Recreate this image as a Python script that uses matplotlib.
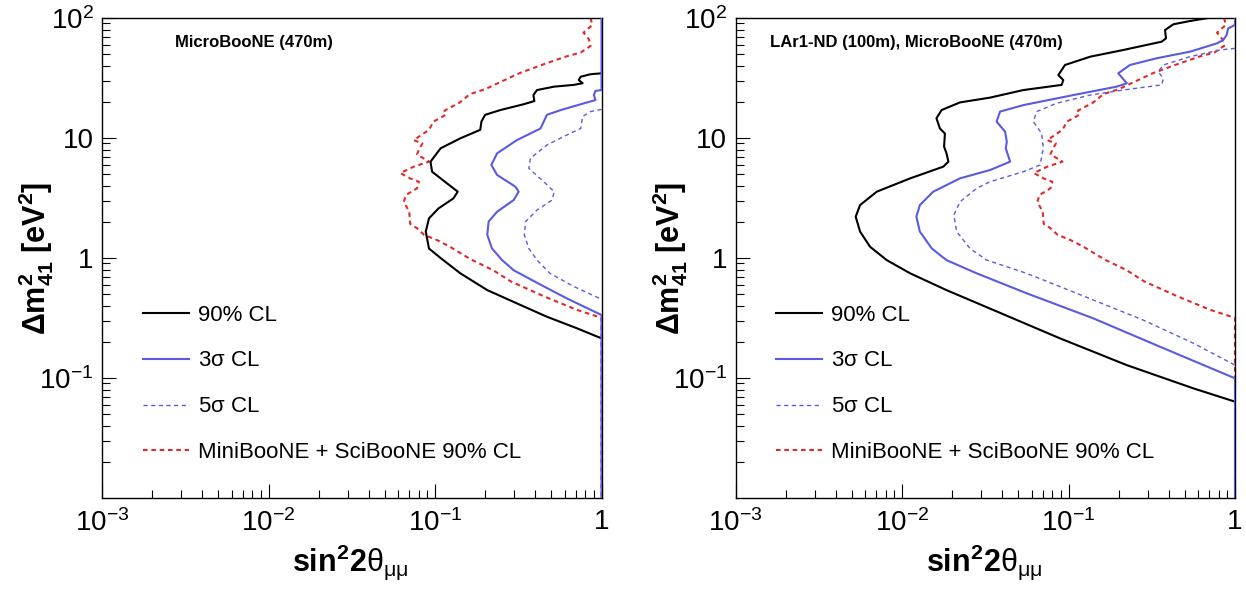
import math
import matplotlib
matplotlib.use('Agg')
import matplotlib.pyplot as plt
import matplotlib.ticker as mticker

plt.rcParams['font.family'] = ['Liberation Sans', 'DejaVu Sans']
plt.rcParams['mathtext.fontset'] = 'custom'
plt.rcParams['mathtext.rm'] = 'Liberation Sans'
plt.rcParams['mathtext.it'] = 'Liberation Sans:italic'
plt.rcParams['mathtext.bf'] = 'Liberation Sans:bold'

# --- MicroBooNE only (left panel) ---
ub_90_x = [1.0, 0.86, 0.75, 0.73, 0.77, 0.68, 0.52, 0.41, 0.39, 0.395, 0.34, 0.247, 0.20, 0.19,
           0.187, 0.142, 0.108, 0.094, 0.096, 0.118, 0.137, 0.129, 0.105, 0.092, 0.088, 0.092,
           0.108, 0.142, 0.206, 0.326, 0.47, 0.71, 1.0]
ub_90_y = [34.6, 34.0, 32.4, 30.4, 28.6, 27.7, 26.8, 25.1, 22.8, 20.3, 19.1, 17.1, 15.6, 13.7,
           11.7, 9.94, 8.2, 6.35, 5.24, 4.19, 3.57, 3.14, 2.59, 2.14, 1.66, 1.20,
           1.0, 0.745, 0.54, 0.406, 0.324, 0.26, 0.214]

ub_3s_x = [1.0, 1.0, 0.92, 0.90, 0.92, 0.82, 0.57, 0.47, 0.45, 0.43, 0.31, 0.236, 0.218, 0.236,
           0.304, 0.318, 0.297, 0.236, 0.21, 0.206, 0.22, 0.253, 0.297, 0.43, 0.62, 1.0, 1.0]
ub_3s_y = [100, 25.1, 24.7, 22.8, 20.7, 19.8, 17.1, 15.6, 13.7, 12.0, 9.6, 7.45, 5.96, 4.92,
           3.93, 3.57, 3.04, 2.43, 2.01, 1.56, 1.2, 0.96, 0.79, 0.60, 0.46, 0.335, 0.01]

ub_5s_x = [1.0, 0.86, 0.77, 0.75, 0.62, 0.47, 0.374, 0.366, 0.45, 0.52, 0.505, 0.41, 0.35,
           0.344, 0.366, 0.41, 0.49, 0.68, 1.0]
ub_5s_y = [17.3, 16.6, 15.1, 12.0, 10.6, 8.74, 6.77, 5.59, 4.32, 3.57, 3.04, 2.51, 2.01,
           1.56, 1.2, 0.96, 0.745, 0.58, 0.453]

# --- LAr1-ND + MicroBooNE (right panel) ---
nd_90_x = [0.69, 0.537, 0.426, 0.38, 0.385, 0.363, 0.213, 0.135, 0.0953, 0.0869, 0.093, 0.091,
           0.0536, 0.0338, 0.0223, 0.0173, 0.0161, 0.0169, 0.0181, 0.0179, 0.0185, 0.019,
           0.0177, 0.0112, 0.00705, 0.0056, 0.00527, 0.0056, 0.00643, 0.0081, 0.0112, 0.0185,
           0.0353, 0.0889, 0.224, 0.562, 1.0]
nd_90_y = [100, 94.4, 88.6, 79.4, 67.7, 63.5, 54.1, 47.6, 40.6, 33.5, 30.4, 27.7,
           25.1, 21.7, 19.8, 17.1, 14.6, 12.0, 10.9, 8.47, 7.45, 6.35,
           5.77, 4.61, 3.57, 2.76, 2.21, 1.66, 1.24, 0.96, 0.745, 0.54,
           0.369, 0.214, 0.128, 0.082, 0.0635]

nd_3s_x = [1.0, 1.0, 0.91, 0.89, 0.85, 0.78, 0.537, 0.339, 0.234, 0.199, 0.224, 0.195, 0.107,
           0.0536, 0.0388, 0.037, 0.0416, 0.0426, 0.042, 0.0446, 0.0338, 0.0223, 0.0154, 0.0128,
           0.0122, 0.0128, 0.0151, 0.0185, 0.0281, 0.0561, 0.141, 0.355, 1.0, 1.0]
nd_3s_y = [100, 87.5, 82, 72.1, 65.6, 61.5, 52.4, 46.2, 40.6, 34.6, 28.6, 26.8, 22.8,
           18.8, 16.6, 13.7, 11.3, 9.3, 8.2, 6.35, 5.41, 4.61, 3.57, 2.76,
           2.21, 1.66, 1.2, 0.96, 0.745, 0.508, 0.314, 0.182, 0.0994, 0.01]

nd_5s_x = [1.0, 0.81, 0.537, 0.371, 0.346, 0.371, 0.363, 0.213, 0.135, 0.085, 0.0644, 0.0615,
           0.069, 0.0706, 0.0675, 0.0536, 0.0338, 0.0281, 0.0223, 0.0205, 0.0213, 0.0256,
           0.0323, 0.0561, 0.112, 0.281, 0.562, 1.0]
nd_5s_y = [55.9, 54.1, 47.6, 40.6, 35.7, 31.4, 27.7, 25.1, 22.8, 19.5, 16.6, 13.7,
           10.9, 8.2, 5.96, 5.24, 4.32, 3.81, 2.94, 2.28, 1.66, 1.2,
           0.96, 0.745, 0.508, 0.304, 0.195, 0.128]

# --- MiniBooNE + SciBooNE 90% CL limit (same in both panels) ---
mbsb_x = [0.86, 0.88, 0.78, 0.84, 0.86, 0.75, 0.62, 0.45, 0.32, 0.25, 0.2, 0.162, 0.141, 0.114,
          0.116, 0.098, 0.092, 0.0745, 0.084, 0.08, 0.078, 0.092, 0.0745, 0.062, 0.071, 0.080,
          0.078, 0.067, 0.065, 0.070, 0.071, 0.078, 0.086, 0.103, 0.123, 0.165, 0.224, 0.284,
          0.45, 0.71, 1.0, 1.0]
mbsb_y = [100, 87.5, 75.5, 66.5, 58.5, 51.5, 48, 41.2, 34.6, 29.5, 25.5, 23.2, 19.8, 16.9,
          15.6, 13.7, 11.7, 9.6, 9.0, 8.0, 7.3, 6.35, 5.77, 5.1, 4.6, 4.32,
          3.81, 3.35, 2.94, 2.43, 1.92, 1.77, 1.56, 1.41, 1.24, 0.97, 0.79, 0.64,
          0.48, 0.37, 0.317, 0.01]

labels = ['90% CL', r'3$\mathrm{\sigma}$ CL', r'5$\mathrm{\sigma}$ CL',
          'MiniBooNE + SciBooNE 90% CL']
titles = ['MicroBooNE (470m)', 'LAr1-ND (100m), MicroBooNE (470m)']

BLUE = '#5a5ae2'
RED = '#e02a2a'

panels = [
    (ub_90_x, ub_90_y, ub_3s_x, ub_3s_y, ub_5s_x, ub_5s_y),
    (nd_90_x, nd_90_y, nd_3s_x, nd_3s_y, nd_5s_x, nd_5s_y),
]
lefts = [102 / 1246, 735.5 / 1246]


def tick_fmt(v, pos):
    if abs(v - 1) < 1e-9:
        return '1'
    if abs(v - 10) < 1e-9:
        return '10'
    e = int(round(math.log10(v)))
    return r'$10^{%d}$' % e


fig = plt.figure(figsize=(12.46, 5.91), dpi=100)

for i, (x90, y90, x3, y3, x5, y5) in enumerate(panels):
    ax = fig.add_axes([lefts[i], 93 / 591, 499.5 / 1246, 480 / 591])
    ax.set_xscale('log')
    ax.set_yscale('log')
    ax.set_xlim(1e-3, 1)
    ax.set_ylim(1e-2, 100)

    h_mb, = ax.plot(mbsb_x, mbsb_y, color=RED, lw=1.5, ls=(0, (2.2, 1.8)), zorder=2)
    h90, = ax.plot(x90, y90, color='black', lw=1.5, zorder=3)
    h5, = ax.plot(x5, y5, color=BLUE, lw=1.0, ls=(0, (3, 2.5)), zorder=3)
    h3, = ax.plot(x3, y3, color=BLUE, lw=1.5, zorder=4)

    ax.legend([h90, h3, h5, h_mb], labels, loc='upper left', bbox_to_anchor=(0.082, 0.403),
              frameon=False, fontsize=16, handlelength=2.05, handletextpad=0.42,
              labelspacing=1.12, borderpad=0, borderaxespad=0)

    ax.text(0.147 if i == 0 else 0.07, 0.95, titles[i], transform=ax.transAxes,
            fontsize=12, fontweight='bold', va='center', ha='left')

    ax.set_yticks([0.1, 1, 10, 100])
    ax.set_xticks([1e-3, 1e-2, 1e-1, 1])
    ax.xaxis.set_major_formatter(mticker.FuncFormatter(tick_fmt))
    ax.yaxis.set_major_formatter(mticker.FuncFormatter(tick_fmt))
    ax.xaxis.set_minor_locator(mticker.LogLocator(base=10, subs=range(2, 10)))
    ax.yaxis.set_minor_locator(mticker.LogLocator(base=10, subs=range(2, 10)))
    ax.xaxis.set_minor_formatter(mticker.NullFormatter())
    ax.yaxis.set_minor_formatter(mticker.NullFormatter())
    ax.tick_params(which='both', direction='in', top=False, right=False, labelsize=20, width=0.8)
    ax.tick_params(which='major', length=10)
    ax.tick_params(which='minor', length=6)
    ax.tick_params(axis='x', pad=8)
    ax.tick_params(axis='y', pad=6)
    for s in ax.spines.values():
        s.set_linewidth(1.0)

    ax.set_xlabel(r'$\mathbf{sin^{2}2}\mathrm{\theta}_{\mathrm{\mu\mu}}$', fontsize=22)
    ax.set_ylabel(r'$\mathbf{\Delta m^{2}_{41}\ [eV^{2}]}$', fontsize=22)
    ax.xaxis.set_label_coords(0.497, -0.093)
    ax.yaxis.set_label_coords(-0.092, 0.5)
    ax.xaxis.label.set_va('top')

fig.savefig('out.png', dpi=100)
